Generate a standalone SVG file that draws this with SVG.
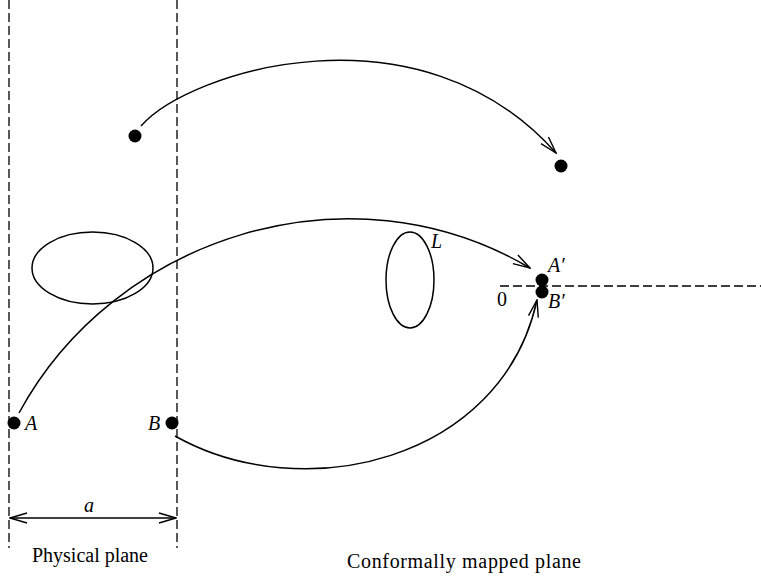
<svg xmlns="http://www.w3.org/2000/svg" width="761" height="578" viewBox="0 0 761 578">
<style>
.dash{stroke:#000;stroke-width:1.3;stroke-dasharray:9,4;fill:none}
.curve{stroke:#000;stroke-width:1.5;fill:none}
.dot{fill:#000}
.lbl{font-family:"Liberation Serif",serif;font-size:20px;font-style:italic;fill:#000}
.cap{font-family:"Liberation Serif",serif;font-size:20px;fill:#000}
</style>
<defs>
<marker id="arr" viewBox="0 0 20 12" refX="19" refY="6" markerWidth="20" markerHeight="12" markerUnits="userSpaceOnUse" orient="auto-start-reverse">
<path d="M2,1 L19,6 L2,11" fill="none" stroke="#000" stroke-width="1.4"/>
</marker>
</defs>
<rect width="761" height="578" fill="#fff"/>
<g id="guides">
<line class="dash" x1="9" y1="0" x2="9" y2="548"/>
<line class="dash" x1="177" y1="0" x2="177" y2="548"/>
<line class="dash" x1="500" y1="286" x2="761" y2="286"/>
</g>
<g id="contour-physical"><ellipse class="curve" cx="92.5" cy="268" rx="60.5" ry="36"/></g>
<g id="contour-L"><ellipse class="curve" cx="410" cy="280" rx="24" ry="48"/><text class="lbl" x="431" y="248">L</text></g>
<g id="point-1"><circle class="dot" cx="135" cy="136" r="6.5"/></g>
<g id="point-1m"><circle class="dot" cx="561" cy="166" r="6.5"/></g>
<g id="point-A"><circle class="dot" cx="14" cy="423" r="6.5"/><text class="lbl" x="25" y="430">A</text></g>
<g id="point-B"><circle class="dot" cx="172" cy="423" r="6.5"/><text class="lbl" x="148" y="430">B</text></g>
<g id="point-A2"><circle class="dot" cx="542" cy="280" r="6.5"/><text class="lbl" x="548" y="272">A′</text></g>
<g id="point-B2"><circle class="dot" cx="542" cy="292" r="6.5"/><text class="lbl" x="548" y="308">B′</text></g>
<g id="origin"><text class="cap" x="497" y="306">0</text></g>
<g id="connectors">
<path class="curve" d="M141,126 C190,70 420,0 556,153" marker-end="url(#arr)"/>
<path class="curve" d="M19,413 C114,237 349,161 530,268" marker-end="url(#arr)"/>
<path class="curve" d="M175,436 C303,508 502,461 537,300" marker-end="url(#arr)"/>
<line class="curve" x1="10" y1="518" x2="176" y2="518" stroke-width="1.2" marker-start="url(#arr)" marker-end="url(#arr)"/>
</g>
<g id="dim-label"><text class="lbl" x="84" y="512">a</text></g>
<g id="captions">
<text class="cap" x="32" y="562" textLength="116">Physical plane</text>
<text class="cap" x="347" y="568" textLength="234">Conformally mapped plane</text>
</g>
</svg>
